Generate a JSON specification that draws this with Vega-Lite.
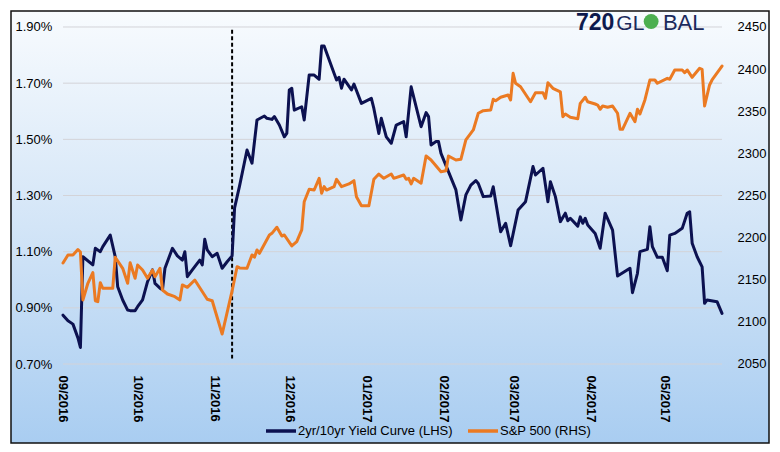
{
  "$schema": "https://vega.github.io/schema/vega-lite/v6.json",
  "width": 758,
  "height": 432,
  "autosize": {"type": "none"},
  "padding": {"left": 11, "top": 11, "right": 11, "bottom": 9},
  "background": "white",
  "config": {
    "font": "Liberation Sans",
    "view": {
      "fill": {"gradient": "linear", "x1": 0, "y1": 0, "x2": 0, "y2": 1,
        "stops": [{"offset": 0, "color": "#f8fbfe"}, {"offset": 0.5, "color": "#d3e5f7"}, {"offset": 1, "color": "#a9cdf1"}]},
      "stroke": "#111111",
      "strokeWidth": 1.5
    },
    "axis": {"domain": false, "ticks": false, "tickSize": 0, "grid": false, "labelColor": "#000000", "labelFontSize": 13, "labelFont": "Liberation Sans", "title": null, "labelOverlap": false, "labelBound": false},
    "legend": {"labelFontSize": 13, "labelColor": "#000000", "labelFont": "Liberation Sans"}
  },
  "datasets": {
    "grid": [{"g": 0.7}, {"g": 0.9}, {"g": 1.1}, {"g": 1.3}, {"g": 1.5}, {"g": 1.7}, {"g": 1.9}],
    "election": [{"date": "2016-11-08", "hi": 1.89, "lo": 0.72}],
    "yc": [
      {"date": "2016-09-01", "v": 0.874}, {"date": "2016-09-03", "v": 0.854}, {"date": "2016-09-05", "v": 0.842},
      {"date": "2016-09-07", "v": 0.793}, {"date": "2016-09-08", "v": 0.759}, {"date": "2016-09-09", "v": 1.082},
      {"date": "2016-09-13", "v": 1.053}, {"date": "2016-09-14", "v": 1.112}, {"date": "2016-09-16", "v": 1.100},
      {"date": "2016-09-17", "v": 1.118}, {"date": "2016-09-20", "v": 1.159}, {"date": "2016-09-22", "v": 1.082},
      {"date": "2016-09-23", "v": 0.975}, {"date": "2016-09-25", "v": 0.928}, {"date": "2016-09-27", "v": 0.892},
      {"date": "2016-09-28", "v": 0.890}, {"date": "2016-09-30", "v": 0.890}, {"date": "2016-10-01", "v": 0.904},
      {"date": "2016-10-03", "v": 0.928}, {"date": "2016-10-05", "v": 0.993}, {"date": "2016-10-07", "v": 1.035},
      {"date": "2016-10-08", "v": 0.987}, {"date": "2016-10-10", "v": 0.970}, {"date": "2016-10-11", "v": 0.964},
      {"date": "2016-10-12", "v": 1.041}, {"date": "2016-10-15", "v": 1.112}, {"date": "2016-10-17", "v": 1.085},
      {"date": "2016-10-19", "v": 1.070}, {"date": "2016-10-20", "v": 1.100}, {"date": "2016-10-21", "v": 1.011},
      {"date": "2016-10-23", "v": 1.035}, {"date": "2016-10-26", "v": 1.070}, {"date": "2016-10-27", "v": 1.053},
      {"date": "2016-10-28", "v": 1.144}, {"date": "2016-10-29", "v": 1.106}, {"date": "2016-10-31", "v": 1.082},
      {"date": "2016-11-02", "v": 1.094}, {"date": "2016-11-04", "v": 1.041}, {"date": "2016-11-06", "v": 1.064},
      {"date": "2016-11-08", "v": 1.085}, {"date": "2016-11-09", "v": 1.256}, {"date": "2016-11-11", "v": 1.334},
      {"date": "2016-11-14", "v": 1.462}, {"date": "2016-11-16", "v": 1.415}, {"date": "2016-11-18", "v": 1.569},
      {"date": "2016-11-21", "v": 1.583}, {"date": "2016-11-22", "v": 1.575}, {"date": "2016-11-24", "v": 1.571},
      {"date": "2016-11-25", "v": 1.581}, {"date": "2016-11-27", "v": 1.551}, {"date": "2016-11-29", "v": 1.509},
      {"date": "2016-11-30", "v": 1.521}, {"date": "2016-12-01", "v": 1.676}, {"date": "2016-12-02", "v": 1.682},
      {"date": "2016-12-03", "v": 1.604}, {"date": "2016-12-06", "v": 1.616}, {"date": "2016-12-07", "v": 1.569},
      {"date": "2016-12-09", "v": 1.729}, {"date": "2016-12-11", "v": 1.729}, {"date": "2016-12-13", "v": 1.714},
      {"date": "2016-12-14", "v": 1.832}, {"date": "2016-12-15", "v": 1.832}, {"date": "2016-12-19", "v": 1.735},
      {"date": "2016-12-20", "v": 1.711}, {"date": "2016-12-21", "v": 1.721}, {"date": "2016-12-22", "v": 1.682},
      {"date": "2016-12-23", "v": 1.714}, {"date": "2016-12-26", "v": 1.676}, {"date": "2016-12-27", "v": 1.697},
      {"date": "2016-12-30", "v": 1.628}, {"date": "2017-01-03", "v": 1.646}, {"date": "2017-01-04", "v": 1.610},
      {"date": "2017-01-06", "v": 1.521}, {"date": "2017-01-07", "v": 1.575}, {"date": "2017-01-09", "v": 1.509},
      {"date": "2017-01-11", "v": 1.486}, {"date": "2017-01-13", "v": 1.551}, {"date": "2017-01-16", "v": 1.563},
      {"date": "2017-01-17", "v": 1.509}, {"date": "2017-01-19", "v": 1.687}, {"date": "2017-01-23", "v": 1.545},
      {"date": "2017-01-25", "v": 1.595}, {"date": "2017-01-26", "v": 1.581}, {"date": "2017-01-27", "v": 1.480},
      {"date": "2017-01-29", "v": 1.492}, {"date": "2017-01-30", "v": 1.492}, {"date": "2017-01-31", "v": 1.450},
      {"date": "2017-02-03", "v": 1.385}, {"date": "2017-02-06", "v": 1.320}, {"date": "2017-02-08", "v": 1.213},
      {"date": "2017-02-10", "v": 1.302}, {"date": "2017-02-12", "v": 1.337}, {"date": "2017-02-14", "v": 1.353},
      {"date": "2017-02-15", "v": 1.343}, {"date": "2017-02-17", "v": 1.296}, {"date": "2017-02-20", "v": 1.298},
      {"date": "2017-02-21", "v": 1.331}, {"date": "2017-02-24", "v": 1.171}, {"date": "2017-02-26", "v": 1.201},
      {"date": "2017-02-28", "v": 1.121}, {"date": "2017-03-03", "v": 1.248}, {"date": "2017-03-06", "v": 1.278},
      {"date": "2017-03-09", "v": 1.403}, {"date": "2017-03-10", "v": 1.373}, {"date": "2017-03-13", "v": 1.397},
      {"date": "2017-03-15", "v": 1.278}, {"date": "2017-03-16", "v": 1.349}, {"date": "2017-03-18", "v": 1.296},
      {"date": "2017-03-20", "v": 1.207}, {"date": "2017-03-22", "v": 1.237}, {"date": "2017-03-23", "v": 1.210},
      {"date": "2017-03-24", "v": 1.219}, {"date": "2017-03-27", "v": 1.191}, {"date": "2017-03-28", "v": 1.224},
      {"date": "2017-03-29", "v": 1.201}, {"date": "2017-03-30", "v": 1.219}, {"date": "2017-03-31", "v": 1.195},
      {"date": "2017-04-03", "v": 1.165}, {"date": "2017-04-05", "v": 1.112}, {"date": "2017-04-07", "v": 1.237},
      {"date": "2017-04-10", "v": 1.177}, {"date": "2017-04-12", "v": 1.013}, {"date": "2017-04-17", "v": 1.041},
      {"date": "2017-04-18", "v": 0.954}, {"date": "2017-04-20", "v": 1.023}, {"date": "2017-04-21", "v": 1.100},
      {"date": "2017-04-24", "v": 1.108}, {"date": "2017-04-25", "v": 1.189}, {"date": "2017-04-26", "v": 1.118},
      {"date": "2017-04-28", "v": 1.080}, {"date": "2017-04-30", "v": 1.080}, {"date": "2017-05-02", "v": 1.032},
      {"date": "2017-05-03", "v": 1.159}, {"date": "2017-05-05", "v": 1.165}, {"date": "2017-05-08", "v": 1.183},
      {"date": "2017-05-10", "v": 1.237}, {"date": "2017-05-11", "v": 1.242}, {"date": "2017-05-12", "v": 1.130},
      {"date": "2017-05-14", "v": 1.082}, {"date": "2017-05-16", "v": 1.046}, {"date": "2017-05-17", "v": 0.916},
      {"date": "2017-05-18", "v": 0.928}, {"date": "2017-05-22", "v": 0.922}, {"date": "2017-05-24", "v": 0.880}
    ],
    "spx": [
      {"date": "2016-09-01", "v": 2169.9}, {"date": "2016-09-03", "v": 2179.4}, {"date": "2016-09-05", "v": 2179.4},
      {"date": "2016-09-07", "v": 2185.9}, {"date": "2016-09-08", "v": 2183.0}, {"date": "2016-09-09", "v": 2126.0},
      {"date": "2016-09-11", "v": 2145.8}, {"date": "2016-09-13", "v": 2158.4}, {"date": "2016-09-14", "v": 2125.1},
      {"date": "2016-09-15", "v": 2124.0}, {"date": "2016-09-16", "v": 2146.5}, {"date": "2016-09-17", "v": 2139.9},
      {"date": "2016-09-21", "v": 2139.9}, {"date": "2016-09-22", "v": 2176.7}, {"date": "2016-09-25", "v": 2163.6},
      {"date": "2016-09-27", "v": 2145.8}, {"date": "2016-09-28", "v": 2170.2}, {"date": "2016-09-30", "v": 2151.7},
      {"date": "2016-10-01", "v": 2167.5}, {"date": "2016-10-03", "v": 2161.6}, {"date": "2016-10-05", "v": 2151.7},
      {"date": "2016-10-07", "v": 2161.6}, {"date": "2016-10-08", "v": 2153.6}, {"date": "2016-10-10", "v": 2163.6},
      {"date": "2016-10-11", "v": 2137.8}, {"date": "2016-10-13", "v": 2133.1}, {"date": "2016-10-16", "v": 2129.9},
      {"date": "2016-10-18", "v": 2126.0}, {"date": "2016-10-19", "v": 2143.8}, {"date": "2016-10-21", "v": 2141.0},
      {"date": "2016-10-24", "v": 2149.7}, {"date": "2016-10-29", "v": 2126.8}, {"date": "2016-10-31", "v": 2125.1},
      {"date": "2016-11-04", "v": 2085.6}, {"date": "2016-11-08", "v": 2136.7}, {"date": "2016-11-10", "v": 2165.5},
      {"date": "2016-11-11", "v": 2164.0}, {"date": "2016-11-14", "v": 2163.6}, {"date": "2016-11-16", "v": 2179.4},
      {"date": "2016-11-17", "v": 2176.7}, {"date": "2016-11-18", "v": 2185.3}, {"date": "2016-11-19", "v": 2181.4},
      {"date": "2016-11-23", "v": 2203.1}, {"date": "2016-11-24", "v": 2205.1}, {"date": "2016-11-26", "v": 2212.3},
      {"date": "2016-11-28", "v": 2201.9}, {"date": "2016-11-29", "v": 2203.1}, {"date": "2016-12-02", "v": 2190.1},
      {"date": "2016-12-04", "v": 2195.2}, {"date": "2016-12-06", "v": 2209.1}, {"date": "2016-12-07", "v": 2242.6},
      {"date": "2016-12-09", "v": 2257.4}, {"date": "2016-12-11", "v": 2256.5}, {"date": "2016-12-13", "v": 2270.4},
      {"date": "2016-12-14", "v": 2252.6}, {"date": "2016-12-15", "v": 2260.5}, {"date": "2016-12-16", "v": 2256.5},
      {"date": "2016-12-19", "v": 2260.5}, {"date": "2016-12-20", "v": 2269.2}, {"date": "2016-12-22", "v": 2260.5},
      {"date": "2016-12-25", "v": 2263.7}, {"date": "2016-12-27", "v": 2267.6}, {"date": "2016-12-28", "v": 2248.6},
      {"date": "2016-12-30", "v": 2237.9}, {"date": "2017-01-02", "v": 2237.9}, {"date": "2017-01-04", "v": 2269.2},
      {"date": "2017-01-06", "v": 2275.5}, {"date": "2017-01-08", "v": 2270.4}, {"date": "2017-01-11", "v": 2275.5},
      {"date": "2017-01-12", "v": 2270.4}, {"date": "2017-01-16", "v": 2274.3}, {"date": "2017-01-17", "v": 2269.2},
      {"date": "2017-01-18", "v": 2270.4}, {"date": "2017-01-19", "v": 2263.7}, {"date": "2017-01-20", "v": 2270.4},
      {"date": "2017-01-23", "v": 2264.5}, {"date": "2017-01-25", "v": 2296.9}, {"date": "2017-01-27", "v": 2292.1},
      {"date": "2017-01-31", "v": 2278.3}, {"date": "2017-02-02", "v": 2279.4}, {"date": "2017-02-03", "v": 2296.9},
      {"date": "2017-02-06", "v": 2292.1}, {"date": "2017-02-08", "v": 2293.0}, {"date": "2017-02-10", "v": 2315.9},
      {"date": "2017-02-13", "v": 2327.8}, {"date": "2017-02-15", "v": 2347.6}, {"date": "2017-02-17", "v": 2350.7},
      {"date": "2017-02-20", "v": 2351.5}, {"date": "2017-02-21", "v": 2364.2}, {"date": "2017-02-22", "v": 2362.5},
      {"date": "2017-02-24", "v": 2366.6}, {"date": "2017-02-27", "v": 2369.3}, {"date": "2017-02-28", "v": 2363.4},
      {"date": "2017-03-01", "v": 2395.0}, {"date": "2017-03-02", "v": 2383.2}, {"date": "2017-03-04", "v": 2379.1},
      {"date": "2017-03-08", "v": 2361.3}, {"date": "2017-03-10", "v": 2372.0}, {"date": "2017-03-13", "v": 2372.0},
      {"date": "2017-03-14", "v": 2365.4}, {"date": "2017-03-15", "v": 2383.9}, {"date": "2017-03-17", "v": 2377.2},
      {"date": "2017-03-20", "v": 2372.9}, {"date": "2017-03-21", "v": 2343.5}, {"date": "2017-03-22", "v": 2346.7},
      {"date": "2017-03-24", "v": 2342.8}, {"date": "2017-03-27", "v": 2341.2}, {"date": "2017-03-28", "v": 2359.4},
      {"date": "2017-03-30", "v": 2366.6}, {"date": "2017-03-31", "v": 2361.3}, {"date": "2017-04-03", "v": 2358.6},
      {"date": "2017-04-04", "v": 2357.4}, {"date": "2017-04-05", "v": 2352.3}, {"date": "2017-04-06", "v": 2356.2},
      {"date": "2017-04-08", "v": 2354.7}, {"date": "2017-04-10", "v": 2356.2}, {"date": "2017-04-12", "v": 2347.6},
      {"date": "2017-04-13", "v": 2328.6}, {"date": "2017-04-14", "v": 2328.6}, {"date": "2017-04-17", "v": 2347.6},
      {"date": "2017-04-19", "v": 2337.6}, {"date": "2017-04-20", "v": 2352.3}, {"date": "2017-04-21", "v": 2346.7},
      {"date": "2017-04-23", "v": 2363.4}, {"date": "2017-04-25", "v": 2387.1}, {"date": "2017-04-27", "v": 2387.1},
      {"date": "2017-04-28", "v": 2383.2}, {"date": "2017-05-02", "v": 2389.1}, {"date": "2017-05-03", "v": 2388.0},
      {"date": "2017-05-05", "v": 2399.0}, {"date": "2017-05-08", "v": 2399.0}, {"date": "2017-05-09", "v": 2395.8},
      {"date": "2017-05-10", "v": 2399.0}, {"date": "2017-05-12", "v": 2390.3}, {"date": "2017-05-15", "v": 2401.0},
      {"date": "2017-05-16", "v": 2399.8}, {"date": "2017-05-17", "v": 2356.2}, {"date": "2017-05-19", "v": 2381.2},
      {"date": "2017-05-20", "v": 2387.1}, {"date": "2017-05-24", "v": 2403.7}
    ]
  },
  "layer": [
    {
      "data": {"name": "grid"},
      "mark": {"type": "rule", "color": "#d3d3d8", "strokeWidth": 1},
      "encoding": {
        "x": {"datum": {"year": 2016, "month": 9, "date": 1, "utc": true}, "type": "temporal", "scale": {"type": "utc", "nice": false, "domain": [{"year": 2016, "month": 8, "date": 11, "hours": 2, "minutes": 9, "utc": true}, {"year": 2017, "month": 6, "date": 11, "hours": 21, "minutes": 35, "utc": true}]}},
        "x2": {"datum": {"year": 2017, "month": 5, "date": 24, "utc": true}},
        "y": {"field": "g", "type": "quantitative", "scale": {"domain": [0.4187, 1.95697], "nice": false, "zero": false}, "axis": null}
      }
    },
    {
      "data": {"name": "election"},
      "mark": {"type": "rule", "color": "#000000", "strokeWidth": 2, "strokeDash": [4, 2.5]},
      "encoding": {
        "x": {"field": "date", "type": "temporal"},
        "y": {"field": "hi", "type": "quantitative", "scale": {"domain": [0.4187, 1.95697], "nice": false, "zero": false}, "axis": null},
        "y2": {"field": "lo"}
      }
    },
    {
      "data": {"values": [{}]},
      "mark": {"type": "text", "text": "720", "font": "Liberation Sans", "fontWeight": "bold", "fontSize": 23, "align": "left", "baseline": "alphabetic", "color": "#0d1a4d"},
      "encoding": {
        "x": {"datum": {"year": 2017, "month": 3, "date": 26, "hours": 7, "utc": true}, "type": "temporal"},
        "y": {"datum": 1.8893, "type": "quantitative", "scale": {"domain": [0.4187, 1.95697], "nice": false, "zero": false}, "axis": null}
      }
    },
    {
      "data": {"values": [{}]},
      "mark": {"type": "text", "text": "GL", "font": "Liberation Sans", "fontSize": 21, "align": "left", "baseline": "alphabetic", "color": "#1b2a5c"},
      "encoding": {
        "x": {"datum": {"year": 2017, "month": 4, "date": 11, "hours": 12, "utc": true}, "type": "temporal"},
        "y": {"datum": 1.8893, "type": "quantitative", "scale": {"domain": [0.4187, 1.95697], "nice": false, "zero": false}, "axis": null}
      }
    },
    {
      "data": {"values": [{}]},
      "mark": {"type": "point", "shape": "circle", "filled": true, "size": 220, "color": "#4caf50", "opacity": 1},
      "encoding": {
        "x": {"datum": {"year": 2017, "month": 4, "date": 25, "hours": 12, "utc": true}, "type": "temporal"},
        "y": {"datum": 1.9196, "type": "quantitative", "scale": {"domain": [0.4187, 1.95697], "nice": false, "zero": false}, "axis": null}
      }
    },
    {
      "data": {"values": [{}]},
      "mark": {"type": "text", "text": "BAL", "font": "Liberation Sans", "fontSize": 22, "align": "left", "baseline": "alphabetic", "color": "#1b2a5c"},
      "encoding": {
        "x": {"datum": {"year": 2017, "month": 4, "date": 30, "hours": 6, "utc": true}, "type": "temporal"},
        "y": {"datum": 1.8893, "type": "quantitative", "scale": {"domain": [0.4187, 1.95697], "nice": false, "zero": false}, "axis": null}
      }
    },
    {
      "data": {"name": "yc"},
      "mark": {"type": "line", "strokeWidth": 3, "strokeJoin": "round", "strokeCap": "round"},
      "encoding": {
        "x": {
          "field": "date", "type": "temporal",
          "axis": {
            "values": [
              {"year": 2016, "month": 9, "date": 1, "utc": true}, {"year": 2016, "month": 10, "date": 1, "utc": true},
              {"year": 2016, "month": 11, "date": 1, "utc": true}, {"year": 2016, "month": 12, "date": 1, "utc": true},
              {"year": 2017, "month": 1, "date": 1, "utc": true}, {"year": 2017, "month": 2, "date": 1, "utc": true},
              {"year": 2017, "month": 3, "date": 1, "utc": true}, {"year": 2017, "month": 4, "date": 1, "utc": true},
              {"year": 2017, "month": 5, "date": 1, "utc": true}
            ],
            "format": "%m/%Y", "labelAngle": 90, "labelAlign": "left", "labelBaseline": "middle",
            "labelFontWeight": "bold", "labelPadding": -68, "title": null, "labelFlush": false
          }
        },
        "y": {
          "field": "v", "type": "quantitative",
          "scale": {"domain": [0.4187, 1.95697], "nice": false, "zero": false},
          "axis": {"orient": "left", "values": [0.7, 0.9, 1.1, 1.3, 1.5, 1.7, 1.9], "labelExpr": "format(datum.value, '.2f') + '%'", "labelAlign": "left", "labelPadding": -4, "title": null}
        },
        "color": {
          "datum": "2yr/10yr Yield Curve (LHS)", "type": "nominal",
          "scale": {"domain": ["2yr/10yr Yield Curve (LHS)", "S&P 500 (RHS)"], "range": ["#0c1150", "#eb7a22"]},
          "legend": {"orient": "none", "legendX": 253, "legendY": 403, "direction": "horizontal", "title": null, "symbolType": "stroke", "symbolStrokeWidth": 3.5, "symbolSize": 900, "labelOffset": 0, "columnPadding": 8, "padding": 0, "labelFontSize": 13}
        }
      }
    },
    {
      "data": {"name": "spx"},
      "mark": {"type": "line", "strokeWidth": 3, "strokeJoin": "round", "strokeCap": "round"},
      "encoding": {
        "x": {"field": "date", "type": "temporal"},
        "y": {
          "field": "v", "type": "quantitative",
          "scale": {"domain": [1956.23, 2468.99], "nice": false, "zero": false},
          "axis": {"orient": "right", "values": [2050, 2100, 2150, 2200, 2250, 2300, 2350, 2400, 2450], "format": "d", "labelAlign": "left", "labelPadding": -32, "title": null}
        },
        "color": {
          "datum": "S&P 500 (RHS)", "type": "nominal",
          "legend": {"orient": "none", "legendX": 253, "legendY": 403, "direction": "horizontal", "title": null, "symbolType": "stroke", "symbolStrokeWidth": 3.5, "symbolSize": 900, "labelOffset": 0, "columnPadding": 8, "padding": 0, "labelFontSize": 13}
        }
      }
    }
  ],
  "resolve": {"scale": {"y": "independent"}}
}
